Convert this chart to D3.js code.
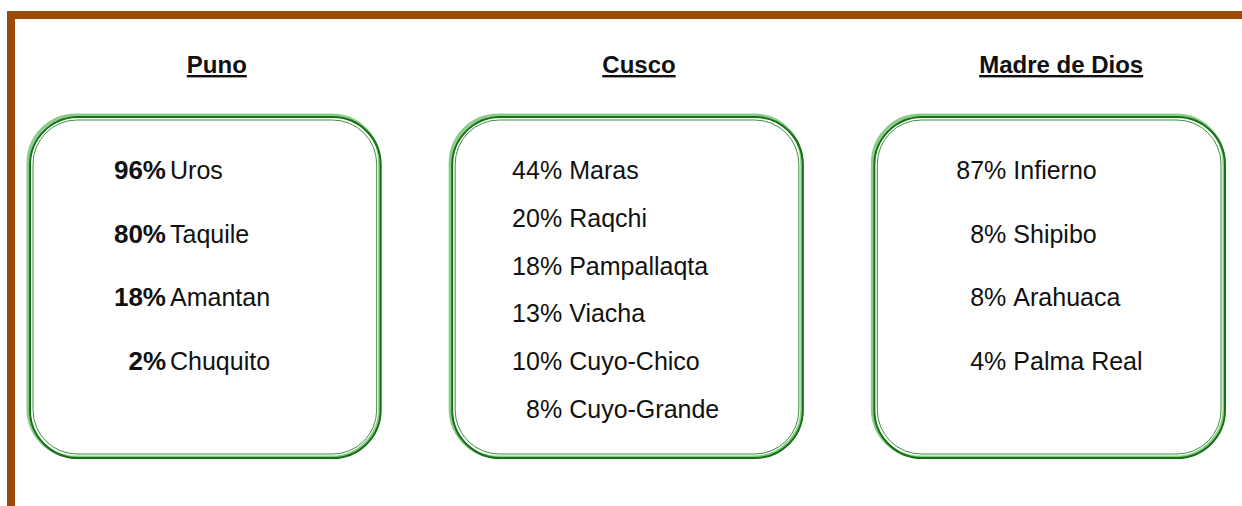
<!DOCTYPE html>
<html>
<head>
<meta charset="utf-8">
<script src="https://cdn.jsdelivr.net/npm/d3@7"></script>
<style>
  body { margin: 0; background: #fff; }
  svg { display: block; font-family: "Liberation Sans", Arial, sans-serif; }
</style>
</head>
<body>
<svg width="1242" height="506"></svg>
<script>
// Data
var regions = ["Puno", "Cusco", "Madre de Dios"];
var punoNames = ["Uros", "Taquile", "Amantan", "Chuquito"];
var punoValues = [96, 80, 18, 2];
var cuscoNames = ["Maras", "Raqchi", "Pampallaqta", "Viacha", "Cuyo-Chico", "Cuyo-Grande"];
var cuscoValues = [44, 20, 18, 13, 10, 8];
var madreNames = ["Infierno", "Shipibo", "Arahuaca", "Palma Real"];
var madreValues = [87, 8, 8, 4];

var names = [punoNames, cuscoNames, madreNames];
var values = [punoValues, cuscoValues, madreValues];

// layout per panel: value column (from box left), gap, bold value, last row y
var valueCol = [138, 112, 134];
var nameGap = [4, 7, 7];
var boldValue = [true, false, false];
var lastRow = [361, 409, 361];

var svg = d3.select("svg");

// brown frame (top + left)
svg.append("rect")
    .attr("x", 11).attr("y", 15)
    .attr("width", 1400).attr("height", 700)
    .attr("fill", "none")
    .attr("stroke", "#9a4a0b")
    .attr("stroke-width", 8);

var x = d3.scaleBand()
    .domain(regions)
    .range([28, 1224])
    .paddingInner(0.167);

var boxTop = 115, boxBottom = 457, r = 48;

regions.forEach(function (reg, i) {
    var x0 = x(reg), w = x.bandwidth();
    var g = svg.append("g");

    // title
    g.append("text")
        .attr("x", x0 + w / 2 + 13)
        .attr("y", 73)
        .attr("text-anchor", "middle")
        .attr("font-size", 24)
        .attr("font-weight", "bold")
        .attr("text-decoration", "underline")
        .attr("fill", "#111")
        .text(reg);

    // green rounded outline (layered)
    g.append("rect")
        .attr("x", x0).attr("y", boxTop)
        .attr("width", w).attr("height", boxBottom - boxTop)
        .attr("rx", r).attr("ry", r)
        .attr("fill", "none")
        .attr("stroke", "#8ccb8c")
        .attr("stroke-width", 3);
    g.append("rect")
        .attr("x", x0 + 2).attr("y", boxTop + 2)
        .attr("width", w - 1).attr("height", boxBottom - boxTop - 1)
        .attr("rx", r).attr("ry", r)
        .attr("fill", "none")
        .attr("stroke", "#167016")
        .attr("stroke-width", 2);
    g.append("rect")
        .attr("x", x0 + 5).attr("y", boxTop + 5)
        .attr("width", w - 8).attr("height", boxBottom - boxTop - 8)
        .attr("rx", r - 4).attr("ry", r - 4)
        .attr("fill", "none")
        .attr("stroke", "#3d8f3d")
        .attr("stroke-width", 1);

    var y = d3.scalePoint()
        .domain(names[i])
        .range([170, lastRow[i]]);

    var rows = g.selectAll("g.row")
        .data(names[i].map(function (n, j) { return { name: n, value: values[i][j] }; }))
        .enter().append("g")
        .attr("class", "row")
        .attr("transform", function (d) { return "translate(" + (x0 + valueCol[i]) + "," + (y(d.name) + 9) + ")"; });

    rows.append("text")
        .attr("text-anchor", "end")
        .attr("font-size", boldValue[i] ? 26 : 25)
        .attr("font-weight", boldValue[i] ? "bold" : "normal")
        .attr("fill", "#111")
        .text(function (d) { return d.value + "%"; });

    rows.append("text")
        .attr("x", nameGap[i])
        .attr("font-size", 25)
        .attr("fill", "#111")
        .text(function (d) { return d.name; });
});
</script>
</body>
</html>
